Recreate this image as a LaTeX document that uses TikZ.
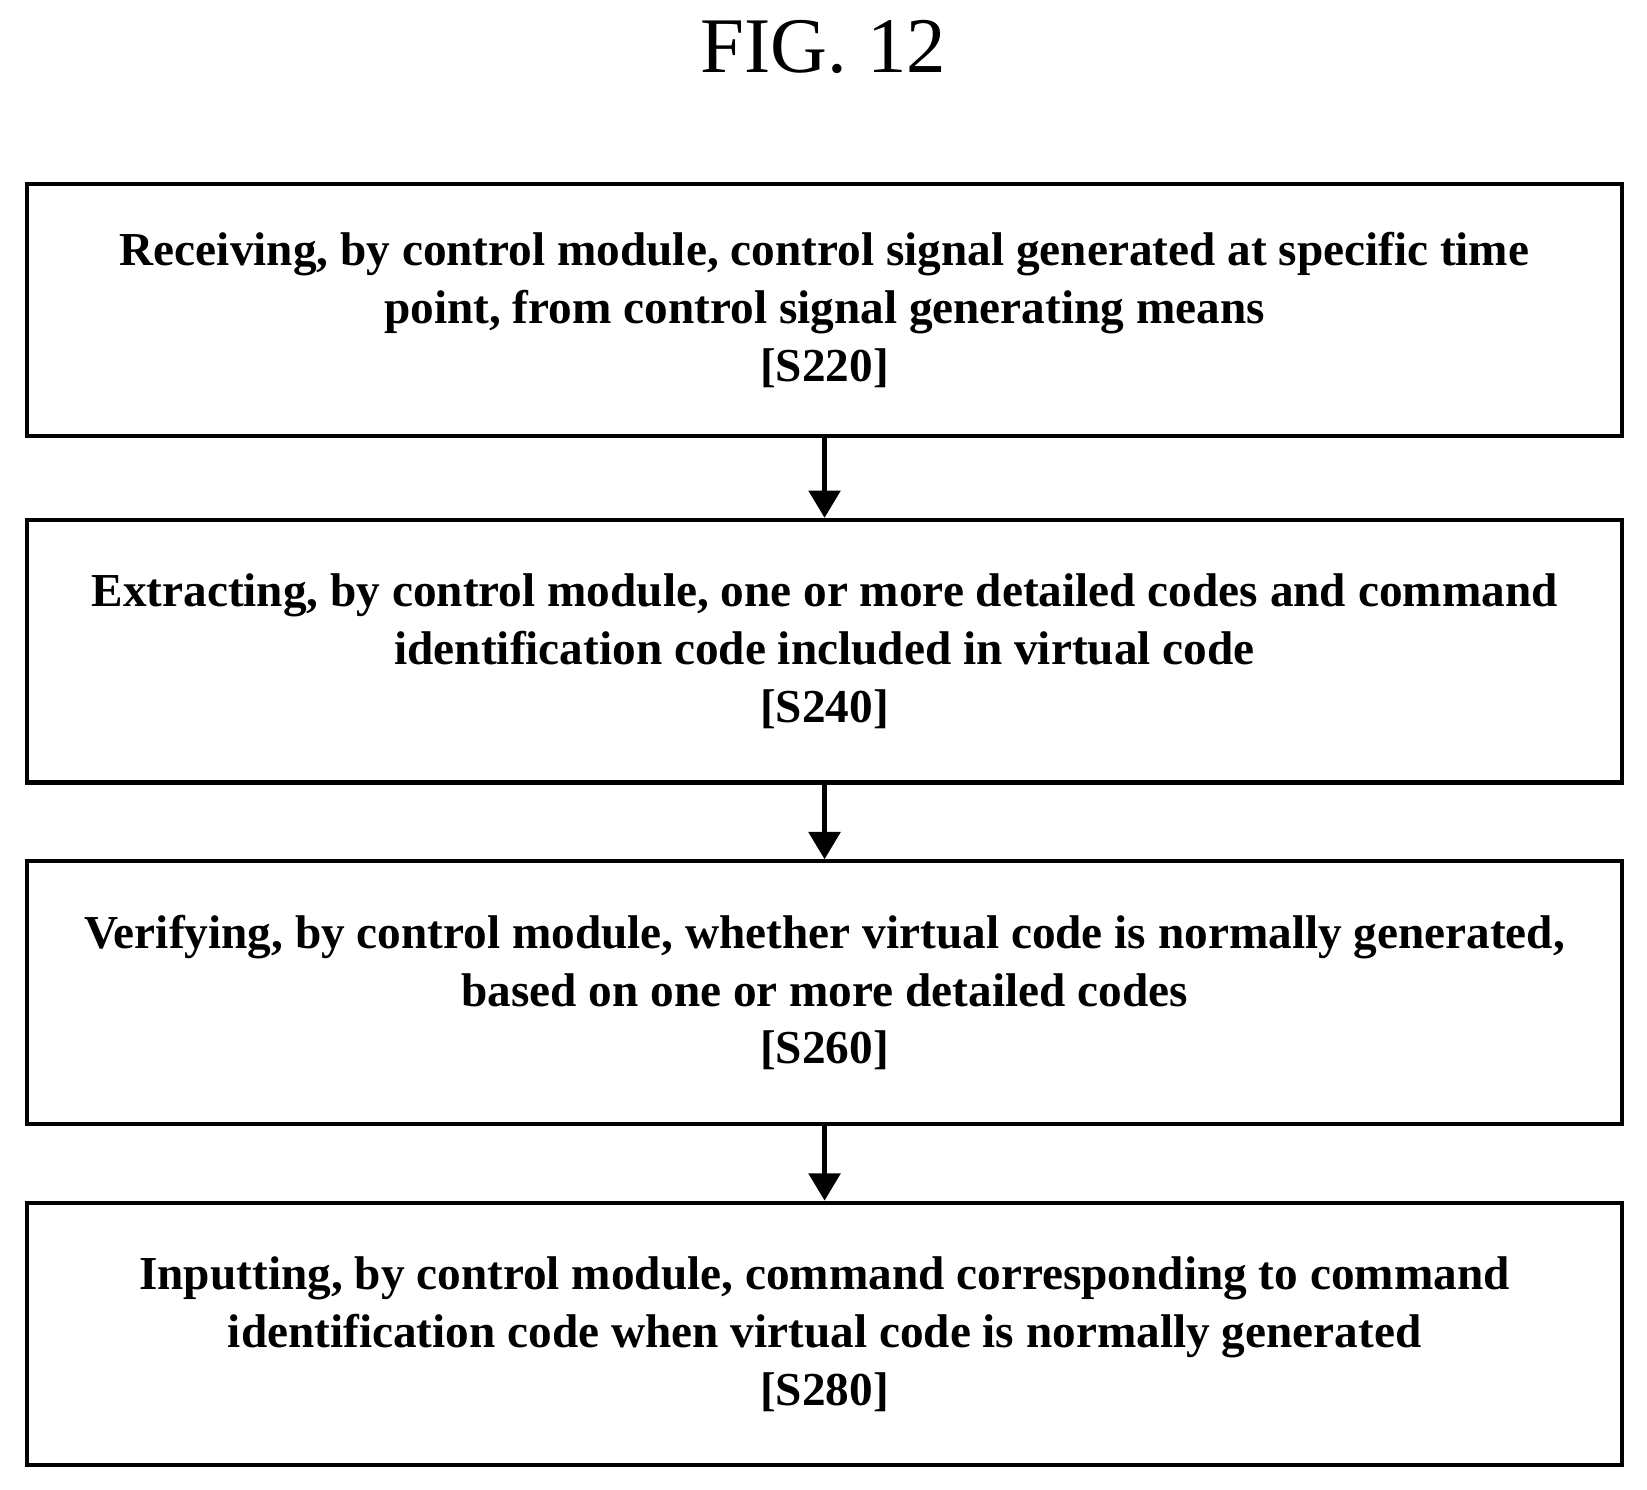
\documentclass[tikz,border=0pt]{standalone}
\usepackage{fontspec}
\setmainfont{Liberation Serif}
\usetikzlibrary{arrows.meta}
\begin{document}
\begin{tikzpicture}[x=1pt,y=-1pt,
  box/.style={draw,line width=4pt,minimum width=1518pt,minimum height=240pt,align=center,
    font=\fontsize{45}{55}\selectfont\bfseries,inner sep=0pt},
  arr/.style={line width=4pt,-{Triangle[length=26pt,width=30pt]}}]
\useasboundingbox (0,0) rectangle (1568,1418);
\node[font=\fontsize{75}{80}\selectfont] (t) at (784,45) {FIG. 12};
\node[box] (b1) at (785,295) {Receiving, by control module, control signal generated at specific time\\point, from control signal generating means\\{[}S220{]}};
\node[box,minimum height=250pt] (b2) at (785,620) {Extracting, by control module, one or more detailed codes and command\\identification code included in virtual code\\{[}S240{]}};
\node[box,minimum height=250pt] (b3) at (785,945) {Verifying, by control module, whether virtual code is normally generated,\\based on one or more detailed codes\\{[}S260{]}};
\node[box,minimum height=250pt] (b4) at (785,1270) {Inputting, by control module, command corresponding to command\\identification code when virtual code is normally generated\\{[}S280{]}};
\draw[arr] (b1) -- (b2);
\draw[arr] (b2) -- (b3);
\draw[arr] (b3) -- (b4);
\end{tikzpicture}
\end{document}
